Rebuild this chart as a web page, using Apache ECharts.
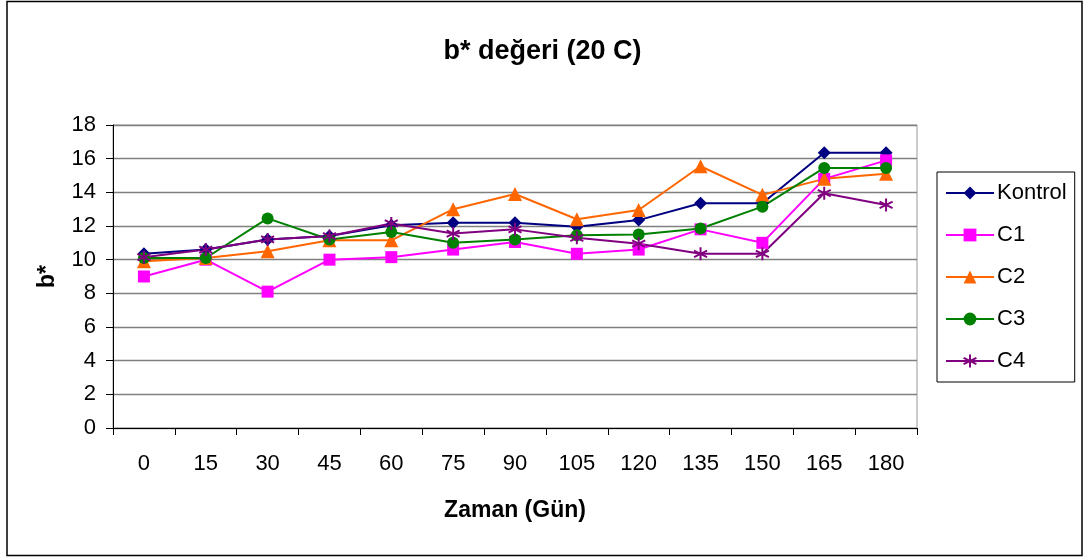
<!DOCTYPE html>
<html>
<head>
<meta charset="utf-8">
<title>b* değeri (20 C)</title>
<script src="https://cdn.jsdelivr.net/npm/echarts@6/dist/echarts.min.js"></script>
<style>
  html, body { margin: 0; padding: 0; background: #fff; }
  #chart { width: 1085px; height: 558px; }
</style>
</head>
<body>
<div id="chart"></div>
<script>
const days = ['0', '15', '30', '45', '60', '75', '90', '105', '120', '135', '150', '165', '180']
const yTicks = [0, 2, 4, 6, 8, 10, 12, 14, 16, 18]

const kontrol = [10.35, 10.6, 11.2, 11.4, 12.05, 12.2, 12.2, 11.95, 12.35, 13.35, 13.35, 16.35, 16.35]
const c1 = [9.0, 10.0, 8.1, 10.0, 10.15, 10.6, 11.05, 10.35, 10.6, 11.8, 11.0, 14.8, 15.9]
const c2 = [9.9, 10.1, 10.5, 11.15, 11.15, 13.0, 13.9, 12.4, 12.95, 15.55, 13.85, 14.8, 15.1]
const c3 = [10.1, 10.1, 12.45, 11.2, 11.65, 11.0, 11.2, 11.45, 11.5, 11.85, 13.15, 15.45, 15.45]
const c4 = [10.15, 10.6, 11.2, 11.4, 12.15, 11.55, 11.8, 11.3, 10.95, 10.35, 10.35, 13.95, 13.25]

const font = "'Liberation Sans', Arial, sans-serif"
const asterisk = 'path://M5 0L5 10M0.7 2.5L9.3 7.5M0.7 7.5L9.3 2.5'

const chart = echarts.init(document.getElementById('chart'))

const mkSeries = (name, data, color, symbol, size) => ({
  name,
  type: 'line',
  data,
  symbol,
  symbolSize: size,
  showAllSymbol: true,
  lineStyle: { color, width: 2 },
  itemStyle: symbol === asterisk
    ? { color: 'none', borderColor: color, borderWidth: 2 }
    : { color },
  emphasis: { disabled: true },
  animation: false,
})

chart.setOption({
  backgroundColor: '#fff',
  textStyle: { fontFamily: font },
  title: {
    text: 'b* değeri (20 C)',
    left: 'center',
    top: 33,
    textStyle: { fontSize: 27, fontWeight: 'bold', color: '#000', fontFamily: font },
  },
  graphic: [
    {
      type: 'rect',
      shape: { x: 7, y: 1.5, width: 1075, height: 554 },
      style: { fill: 'none', stroke: '#000', lineWidth: 1.5 },
      silent: true,
    },
  ],
  legend: {
    orient: 'vertical',
    left: 937,
    top: 172,
    padding: [10, 8, 10, 8],
    itemWidth: 48,
    itemHeight: 16,
    itemGap: 20,
    borderColor: '#000',
    borderWidth: 1,
    textStyle: { fontSize: 22, color: '#000', fontFamily: font, padding: [0, 0, 0, -2] },
    data: ['Kontrol', 'C1', 'C2', 'C3', 'C4'],
  },
  grid: {
    left: 113,
    right: 168,
    top: 125,
    bottom: 130,
    show: true,
    borderColor: '#999',
    borderWidth: 1,
  },
  xAxis: {
    type: 'category',
    data: days,
    boundaryGap: true,
    name: 'Zaman (Gün)',
    nameLocation: 'middle',
    nameGap: 71,
    nameTextStyle: { fontSize: 23, fontWeight: 'bold', color: '#000', fontFamily: font },
    axisLine: { lineStyle: { color: '#000', width: 1 } },
    axisTick: { show: true, interval: 0, length: 7, lineStyle: { color: '#000' } },
    axisLabel: { fontSize: 22, color: '#000', margin: 25, interval: 0, fontFamily: font },
    splitLine: { show: false },
  },
  yAxis: {
    type: 'value',
    min: yTicks[0],
    max: yTicks[yTicks.length - 1],
    interval: 2,
    name: 'b*',
    nameLocation: 'middle',
    nameRotate: 90,
    nameGap: 54,
    nameTextStyle: { fontSize: 23, fontWeight: 'bold', color: '#000', fontFamily: font },
    axisLine: { show: true, lineStyle: { color: '#000', width: 1 } },
    axisTick: { show: true, length: 7, lineStyle: { color: '#000' } },
    axisLabel: { fontSize: 22, color: '#000', margin: 17, fontFamily: font },
    splitLine: { show: true, lineStyle: { color: '#808080', width: 1.3 } },
  },
  series: [
    mkSeries('Kontrol', kontrol, '#000080', 'diamond', 13),
    mkSeries('C1', c1, '#FF00FF', 'rect', 12),
    mkSeries('C2', c2, '#FF6600', 'triangle', 14),
    mkSeries('C3', c3, '#008000', 'circle', 12),
    mkSeries('C4', c4, '#800080', asterisk, 13),
  ],
})
</script>
</body>
</html>
